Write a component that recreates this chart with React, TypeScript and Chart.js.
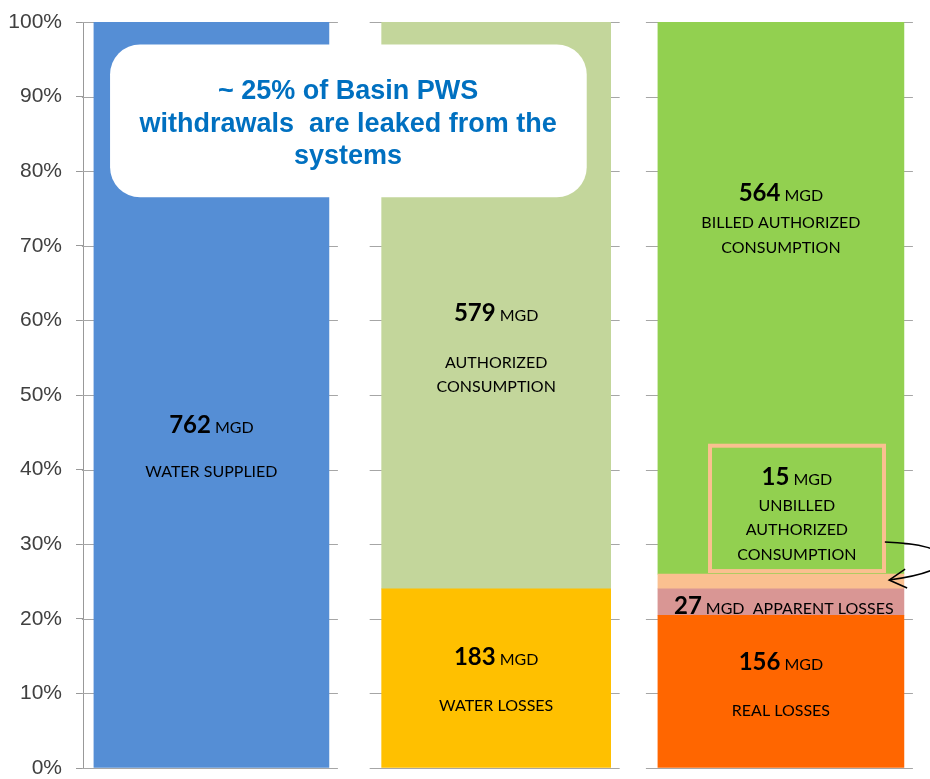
import React, { useEffect, useRef } from 'react';
import { Chart, registerables } from 'chart.js';
Chart.register(...registerables);

// ---- data ----
const segmentNames = [
  'WATER SUPPLIED',
  'WATER LOSSES',
  'AUTHORIZED CONSUMPTION',
  'REAL LOSSES',
  'APPARENT LOSSES',
  'UNBILLED AUTHORIZED CONSUMPTION',
  'BILLED AUTHORIZED CONSUMPTION',
];
const segmentMgd = [762, 183, 579, 156, 27, 15, 564];
const segmentBar = [0, 1, 1, 2, 2, 2, 2];
const segmentColors = ['#558ED5', '#FFC000', '#C3D69B', '#FF6600', '#D99694', '#FAC090', '#92D050'];
const totalMgd = 762;
const yTickValues = [0, 10, 20, 30, 40, 50, 60, 70, 80, 90, 100];

const calloutLines = ['~ 25% of Basin PWS', 'withdrawals  are leaked from the', 'systems'];

type TextLine = { x: number; y: number; big?: string; small?: string; text?: string };
const barLabels: TextLine[] = [
  { x: 0, y: 46.1, big: '762', small: 'MGD' },
  { x: 0, y: 39.7, text: 'WATER SUPPLIED' },
  { x: 1, y: 61.1, big: '579', small: 'MGD' },
  { x: 1, y: 54.3, text: 'AUTHORIZED' },
  { x: 1, y: 51.1, text: 'CONSUMPTION' },
  { x: 1, y: 14.9, big: '183', small: 'MGD' },
  { x: 1, y: 8.3, text: 'WATER LOSSES' },
  { x: 2, y: 77.1, big: '564', small: 'MGD' },
  { x: 2, y: 73.1, text: 'BILLED AUTHORIZED' },
  { x: 2, y: 69.7, text: 'CONSUMPTION' },
  { x: 2.056, y: 39.1, big: '15', small: 'MGD' },
  { x: 2.056, y: 35.1, text: 'UNBILLED' },
  { x: 2.056, y: 31.9, text: 'AUTHORIZED' },
  { x: 2.056, y: 28.6, text: 'CONSUMPTION' },
  { x: 2.01, y: 21.8, big: '27', small: 'MGD  APPARENT LOSSES' },
  { x: 2, y: 14.3, big: '156', small: 'MGD' },
  { x: 2, y: 7.6, text: 'REAL LOSSES' },
];

const barWidths = [235, 229, 246];
const FONT = 'Lato, "Open Sans", sans-serif';

const decorPlugin = {
  id: 'decor',
  beforeDatasetsDraw(chart: any) {
    const ctx = chart.ctx;
    const ys = chart.scales.y;
    const seen: Record<number, any> = {};
    chart.data.datasets.forEach((_: any, di: number) => {
      const meta = chart.getDatasetMeta(di);
      meta.data.forEach((el: any) => {
        const key = Math.round(el.x);
        if (!seen[key]) seen[key] = el;
      });
    });
    ctx.save();
    ctx.strokeStyle = '#A6A6A6';
    ctx.lineWidth = 1;
    Object.values(seen).forEach((el: any) => {
      const l = el.x - el.width / 2 - 12;
      const r = el.x + el.width / 2 + 9;
      yTickValues.forEach((v) => {
        const y = Math.round(ys.getPixelForValue(v)) + 0.5;
        ctx.beginPath();
        ctx.moveTo(l, y);
        ctx.lineTo(r, y);
        ctx.stroke();
      });
    });
    ctx.restore();
  },
  afterDatasetsDraw(chart: any) {
    const ctx = chart.ctx;
    const xs = chart.scales.x;
    const ys = chart.scales.y;
    const px = (v: number) => xs.getPixelForValue(v);
    const py = (v: number) => ys.getPixelForValue(v);
    ctx.save();

    const bl = px(1.751), br = px(2.362), bt = py(43.2), bb = py(26.4);
    ctx.strokeStyle = '#FAC090';
    ctx.lineWidth = 4;
    ctx.strokeRect(bl, bt, br - bl, bb - bt);

    ctx.strokeStyle = '#000';
    ctx.lineWidth = 1.5;
    const sx = px(2.365), sy = py(30.3);
    const ex = px(2.38), ey = py(25.2);
    ctx.beginPath();
    ctx.moveTo(sx, sy);
    ctx.bezierCurveTo(px(2.62), py(30.0), px(2.66), py(26.6), ex, ey);
    ctx.stroke();
    ctx.beginPath();
    ctx.moveTo(ex + 16, ey - 11);
    ctx.lineTo(ex, ey);
    ctx.lineTo(ex + 18, ey + 8);
    ctx.stroke();

    const cl = px(-0.356), cr = px(1.318), ct = py(97.0), cb = py(76.5);
    ctx.fillStyle = '#FFFFFF';
    ctx.beginPath();
    (ctx as any).roundRect(cl, ct, cr - cl, cb - ct, 30);
    ctx.fill();
    ctx.fillStyle = '#0070C0';
    ctx.font = 'bold 27px "Liberation Sans", Arial, sans-serif';
    ctx.textAlign = 'center';
    ctx.textBaseline = 'middle';
    const cx = px(0.48);
    const cys = [90.7, 86.3, 81.9];
    calloutLines.forEach((t, i) => ctx.fillText(t, cx, py(cys[i])));

    ctx.fillStyle = '#000';
    barLabels.forEach((lab) => {
      const x = px(lab.x);
      const y = py(lab.y);
      if (lab.text) {
        ctx.font = `16px ${FONT}`;
        ctx.textAlign = 'center';
        ctx.textBaseline = 'middle';
        ctx.fillText(lab.text, x, y);
      } else {
        ctx.textBaseline = 'alphabetic';
        ctx.textAlign = 'left';
        ctx.font = `bold 24px ${FONT}`;
        const w1 = ctx.measureText(lab.big!).width;
        ctx.font = `16px ${FONT}`;
        const w2 = ctx.measureText(lab.small!).width;
        const gap = 4;
        const start = x - (w1 + gap + w2) / 2;
        const base = y + 8.5;
        ctx.font = `bold 24px ${FONT}`;
        ctx.fillText(lab.big!, start, base);
        ctx.font = `16px ${FONT}`;
        ctx.fillText(lab.small!, start + w1 + gap, base);
      }
    });
    ctx.restore();
  },
};

export default function App() {
  const ref = useRef<HTMLCanvasElement>(null);
  useEffect(() => {
    document.body.style.margin = '0';
    const chart = new Chart(ref.current!, {
      type: 'bar',
      data: {
        datasets: segmentNames.map((name, i) => ({
          label: name,
          data: [{ x: segmentBar[i], y: (segmentMgd[i] / totalMgd) * 100 }],
          backgroundColor: segmentColors[i],
          borderWidth: 0,
          barThickness: barWidths[segmentBar[i]],
        })),
      },
      options: {
        animation: false,
        responsive: false,
        devicePixelRatio: 1,
        layout: { padding: { top: 22, bottom: 11, right: 5, left: 0 } },
        plugins: { legend: { display: false }, tooltip: { enabled: false } },
        scales: {
          x: {
            type: 'linear',
            min: -0.451,
            max: 2.506,
            stacked: true,
            display: false,
            afterBuildTicks: (s: any) => {
              s.ticks = [];
            },
          },
          y: {
            stacked: true,
            min: 0,
            max: 100,
            afterFit: (scale: any) => {
              scale.width = 83;
              scale.paddingTop = 0;
              scale.paddingBottom = 0;
            },
            ticks: {
              stepSize: 10,
              padding: 14,
              color: '#404040',
              font: { family: '"Liberation Sans", Arial, sans-serif', size: 21 },
              callback: (v: any) => v + '%',
            },
            grid: {
              drawOnChartArea: false,
              drawTicks: true,
              tickLength: 7,
              color: '#999999',
            },
            border: { display: true, color: '#999999' },
          },
        },
      } as any,
      plugins: [decorPlugin],
    });
    return () => chart.destroy();
  }, []);
  return <canvas ref={ref} width={930} height={779} style={{ display: 'block' }} />;
}
